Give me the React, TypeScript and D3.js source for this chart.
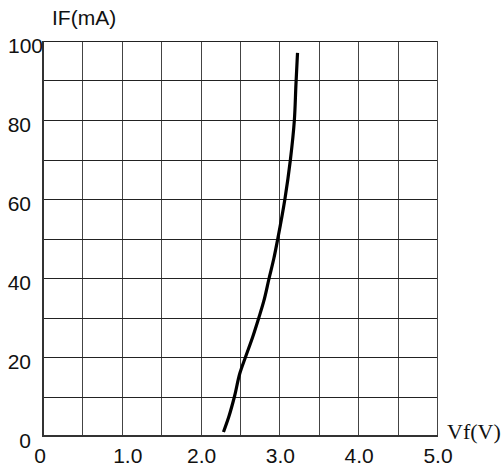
import * as d3 from "d3";

const vfTicks = [0, 1, 2, 3, 4, 5];
const vfTickLabels = ["0", "1.0", "2.0", "3.0", "4.0", "5.0"];
const ifTicks = [0, 20, 40, 60, 80, 100];
const ifTickLabels = ["0", "20", "40", "60", "80", "100"];

// curve
const vfValues = [2.29, 2.36, 2.43, 2.5, 2.57, 2.66, 2.74, 2.8, 2.87, 2.93, 2.98, 3.07, 3.14, 3.19, 3.21, 3.23];
const ifValues = [1, 5, 10, 16, 20, 25, 30, 34, 40, 45, 50, 60, 70, 80, 89, 97];

const W = 504;
const H = 471;
const left = 43;
const right = 437;
const top = 41;
const bottom = 436;

export default function App() {
  const x = d3.scaleLinear().domain([0, 5]).range([left, right]);
  const y = d3.scaleLinear().domain([0, 100]).range([bottom, top]);

  const gridX = d3.range(0, 5.01, 0.5);
  const gridY = d3.range(0, 100.1, 10);

  const pts: [number, number][] = vfValues.map((v, i) => [v, ifValues[i]]);
  const line = d3
    .line<[number, number]>()
    .x((d) => x(d[0]))
    .y((d) => y(d[1]))
    .curve(d3.curveMonotoneY);

  const font = "Liberation Sans, Arial, sans-serif";

  return (
    <svg
      width={W}
      height={H}
      style={{ position: "absolute", left: 0, top: 0, background: "#fff" }}
    >
      <g shapeRendering="crispEdges">
        {gridX.map((v) => (
          <line
            key={"gx" + v}
            x1={Math.round(x(v)) + 0.5}
            x2={Math.round(x(v)) + 0.5}
            y1={top}
            y2={bottom}
            stroke="#444"
            strokeWidth={1}
          />
        ))}
        {gridY.map((v) => (
          <line
            key={"gy" + v}
            x1={left}
            x2={right}
            y1={Math.round(y(v)) + 0.5}
            y2={Math.round(y(v)) + 0.5}
            stroke="#222"
            strokeWidth={1}
          />
        ))}
        {/* axes */}
        <line x1={left} x2={left} y1={top} y2={bottom + 1} stroke="#333" strokeWidth={2} />
        <line x1={left} x2={right + 1} y1={bottom} y2={bottom} stroke="#333" strokeWidth={2} />
      </g>

      <path d={line(pts) ?? ""} fill="none" stroke="#000" strokeWidth={3.2} />

      {ifTicks.map((v, i) => (
        <text
          key={"yl" + v}
          x={v === 100 ? left : 31}
          y={y(v) + 12}
          textAnchor="end"
          fontFamily={font}
          fontSize={21}
          fill="#111"
        >
          {ifTickLabels[i]}
        </text>
      ))}

      {vfTicks.map((v, i) => (
        <text
          key={"xl" + v}
          x={x(v) + (v === 1 ? 6 : v === 0 ? -3 : 1)}
          y={463}
          textAnchor="middle"
          fontFamily={font}
          fontSize={21}
          fill="#111"
        >
          {vfTickLabels[i]}
        </text>
      ))}

      <text x={52} y={25} fontFamily={font} fontSize={21} fill="#111">
        IF(mA)
      </text>
      <text
        x={447}
        y={439}
        fontFamily="Liberation Serif, Times New Roman, serif"
        fontSize={22}
        fill="#111"
      >
        Vf(V)
      </text>
    </svg>
  );
}
